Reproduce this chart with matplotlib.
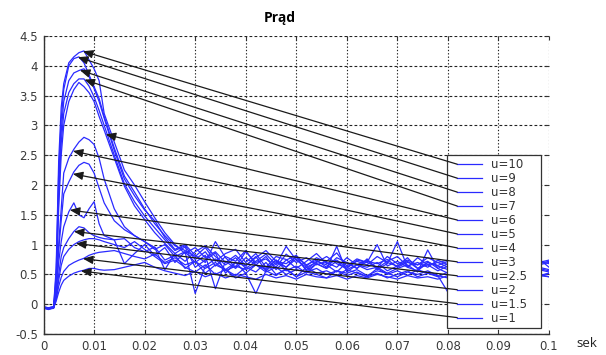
import numpy as np
import matplotlib
matplotlib.use("Agg")
import matplotlib.pyplot as plt
from matplotlib.lines import Line2D
from matplotlib.legend_handler import HandlerLine2D

# time base [s]: fine sampling through the switch-on transient, then every 2 ms
t_start = [0.0, 0.001, 0.002, 0.0025, 0.003, 0.0035, 0.004, 0.005, 0.006,
           0.007, 0.008, 0.009, 0.010, 0.011, 0.012, 0.014, 0.016, 0.018]
t_tail = np.round(np.arange(0.020, 0.1001, 0.002), 3)
t = np.concatenate([t_start, t_tail])

labels = ["u=10", "u=9", "u=8", "u=7", "u=6", "u=5",
          "u=4", "u=3", "u=2.5", "u=2", "u=1.5", "u=1"]

# measured current for each supply setting
i_u10 = [-0.05, -0.06, -0.04, 0.60, 2.40, 3.30, 3.70, 4.05, 4.15, 4.22, 4.25, 4.10, 3.95, 3.75, 3.20, 2.72, 2.25, 2.00,
         1.72, 1.45, 1.20, 1.00, 0.85, 0.95, 0.78, 0.88, 0.70, 0.82,
         0.65, 0.78, 0.90, 0.72, 0.68, 0.80, 0.66, 0.74, 0.62, 0.78,
         0.70, 0.60, 0.72, 0.68, 0.75, 0.62, 0.70, 0.66, 0.72, 0.60,
         0.68, 0.70, 0.62, 0.72, 0.66, 0.70, 0.60, 0.68, 0.72, 0.66,
         0.70]
i_u9 = [-0.06, -0.08, -0.05, 0.50, 2.20, 3.10, 3.60, 4.00, 4.12, 4.15, 4.05, 3.85, 3.65, 3.45, 3.15, 2.62, 2.15, 1.88,
        1.60, 1.35, 1.15, 0.98, 0.90, 0.80, 0.95, 0.72, 0.85, 0.92,
        0.70, 0.85, 0.62, 0.80, 0.75, 0.60, 0.72, 0.85, 0.68, 0.74,
        0.62, 0.72, 0.66, 0.80, 0.70, 0.64, 0.78, 0.60, 0.70, 0.65,
        0.72, 0.66, 0.74, 0.60, 0.70, 0.68, 0.72, 0.64, 0.70, 0.76,
        0.62]
i_u8 = [-0.05, -0.07, -0.06, 0.40, 2.00, 2.90, 3.40, 3.75, 3.88, 3.92, 3.95, 3.82, 3.62, 3.40, 3.12, 2.58, 2.10, 1.82,
        1.58, 1.40, 1.12, 0.92, 1.00, 0.82, 0.70, 1.05, 0.78, 0.62,
        0.88, 0.70, 0.76, 0.62, 0.84, 0.70, 0.78, 0.66, 0.72, 0.86,
        0.64, 0.76, 0.70, 0.62, 0.80, 0.68, 0.74, 0.66, 0.78, 0.70,
        0.62, 0.74, 0.68, 0.76, 0.62, 0.72, 0.66, 0.74, 0.62, 0.70,
        0.74]
i_u7 = [-0.06, -0.08, -0.07, 0.35, 1.80, 2.70, 3.20, 3.55, 3.70, 3.78, 3.78, 3.66, 3.48, 3.25, 3.00, 2.50, 2.02, 1.72,
        1.48, 1.28, 1.08, 0.90, 0.98, 0.75, 0.88, 0.64, 0.80, 0.72,
        0.90, 0.66, 0.80, 0.58, 0.74, 0.82, 0.64, 0.78, 0.70, 0.62,
        0.78, 0.66, 0.74, 0.60, 0.72, 0.80, 0.64, 0.70, 0.62, 0.74,
        0.66, 0.72, 0.60, 0.70, 0.74, 0.64, 0.70, 0.66, 0.60, 0.72,
        0.68]
i_u6 = [-0.07, -0.09, -0.06, 0.30, 1.60, 2.50, 3.00, 3.40, 3.60, 3.72, 3.65, 3.55, 3.40, 3.15, 2.92, 2.45, 1.98, 1.65,
        1.42, 1.20, 1.02, 0.85, 0.72, 0.88, 0.98, 0.80, 0.66, 0.78,
        0.60, 0.72, 0.84, 0.66, 0.97, 0.74, 0.62, 0.70, 0.80, 0.68,
        0.60, 0.74, 0.70, 1.00, 0.64, 0.72, 0.62, 0.78, 0.66, 0.70,
        0.74, 0.62, 0.70, 0.66, 0.78, 0.64, 0.70, 0.74, 0.62, 0.68,
        0.72]
i_u5 = [-0.06, -0.08, -0.06, 0.30, 1.00, 1.60, 2.20, 2.45, 2.60, 2.72, 2.80, 2.76, 2.68, 2.45, 2.10, 1.60, 1.30, 1.15,
        1.05, 0.92, 1.00, 0.80, 0.88, 0.70, 0.82, 0.26, 0.72, 0.60,
        0.78, 0.66, 0.58, 0.74, 0.62, 0.80, 0.56, 0.68, 0.60, 0.72,
        0.58, 0.66, 0.62, 0.70, 0.56, 0.64, 0.72, 0.60, 0.66, 0.56,
        0.64, 0.60, 0.68, 0.56, 0.62, 0.66, 0.58, 0.64, 0.60, 0.62,
        0.58]
i_u4 = [-0.06, -0.07, -0.05, 0.25, 0.90, 1.40, 1.85, 2.05, 2.22, 2.33, 2.38, 2.35, 2.20, 1.95, 1.70, 1.40, 1.25, 1.15,
        1.05, 0.95, 0.58, 0.85, 0.96, 0.62, 0.74, 0.86, 0.52, 0.70,
        0.64, 0.80, 0.56, 0.70, 0.62, 0.76, 0.58, 0.72, 0.66, 0.54,
        0.70, 0.60, 0.76, 0.58, 0.68, 1.05, 0.62, 0.56, 0.70, 0.64,
        0.58, 0.68, 0.62, 0.56, 0.70, 0.60, 0.66, 0.58, 0.64, 0.60,
        0.56]
i_u3 = [-0.05, -0.06, -0.05, 0.20, 0.70, 1.05, 1.30, 1.55, 1.70, 1.50, 1.45, 1.60, 1.72, 1.35, 1.15, 1.08, 0.68, 0.85,
        1.00, 0.82, 0.95, 0.70, 0.88, 0.18, 0.64, 0.76, 0.58, 0.70,
        0.52, 0.66, 0.60, 0.74, 0.56, 0.64, 0.52, 0.68, 0.60, 0.97,
        0.54, 0.66, 0.58, 0.62, 0.52, 0.60, 0.66, 0.54, 0.91, 0.60,
        0.52, 0.62, 0.56, 0.64, 0.50, 0.60, 0.56, 0.62, 0.52, 0.58,
        0.54]
i_u25 = [-0.05, -0.06, -0.05, 0.15, 0.50, 0.80, 0.95, 1.10, 1.22, 1.30, 1.28, 1.20, 1.15, 1.12, 1.10, 1.08, 1.10, 0.95,
         0.88, 0.96, 0.74, 0.82, 0.60, 0.72, 0.52, 0.66, 0.58, 0.48,
         0.62, 0.54, 0.70, 0.50, 0.58, 0.46, 0.62, 0.52, 0.56, 0.48,
         0.58, 0.52, 0.46, 0.60, 0.50, 0.56, 0.48, 0.58, 0.52, 0.46,
         0.54, 0.50, 0.58, 0.46, 0.52, 0.56, 0.48, 0.54, 0.50, 0.46,
         0.52]
i_u2 = [-0.06, -0.07, -0.06, 0.10, 0.40, 0.65, 0.80, 0.92, 1.00, 1.05, 1.08, 1.10, 1.10, 1.08, 1.05, 1.00, 0.95, 1.05,
        0.92, 0.80, 0.68, 0.74, 0.62, 0.54, 0.66, 0.50, 0.58, 0.44,
        0.52, 0.18, 0.56, 0.48, 0.60, 0.46, 0.54, 0.50, 0.44, 0.56,
        0.48, 0.54, 0.46, 0.52, 0.44, 0.50, 0.56, 0.46, 0.52, 0.48,
        0.44, 0.52, 0.48, 0.54, 0.46, 0.50, 0.44, 0.52, 0.48, 0.50,
        0.46]
i_u15 = [-0.05, -0.06, -0.05, 0.08, 0.30, 0.45, 0.55, 0.65, 0.70, 0.74, 0.77, 0.82, 0.85, 0.87, 0.88, 0.90, 0.85, 0.80,
         0.76, 0.84, 0.70, 0.78, 0.66, 0.72, 0.60, 0.70, 0.56, 0.64,
         0.58, 0.66, 0.54, 0.62, 0.50, 0.58, 0.54, 0.60, 0.50, 0.56,
         0.52, 0.58, 0.48, 0.56, 0.52, 0.46, 0.54, 0.50, 0.56, 0.48,
         0.20, 0.42, 0.50, 0.46, 0.54, 0.48, 0.52, 0.46, 0.50, 0.48,
         0.52]
i_u1 = [-0.05, -0.07, -0.06, 0.05, 0.20, 0.32, 0.40, 0.47, 0.52, 0.55, 0.57, 0.60, 0.60, 0.58, 0.57, 0.58, 0.62, 0.66,
        0.70, 0.62, 0.56, 0.52, 0.48, 0.55, 0.46, 0.52, 0.44, 0.50,
        0.46, 0.42, 0.50, 0.44, 0.48, 0.42, 0.50, 0.46, 0.44, 0.48,
        0.42, 0.48, 0.44, 0.50, 0.46, 0.42, 0.48, 0.44, 0.46, 0.42,
        0.48, 0.44, 0.46, 0.42, 0.48, 0.44, 0.46, 0.50, 0.44, 0.48,
        0.46]

currents = [i_u10, i_u9, i_u8, i_u7, i_u6, i_u5, i_u4, i_u3, i_u25, i_u2, i_u15, i_u1]

# time at which each callout arrow touches its curve
arrow_t = [0.0078, 0.0068, 0.0072, 0.0081, 0.0123, 0.0058,
           0.0058, 0.0052, 0.0060, 0.0064, 0.0078, 0.0074]

x_ticks = [0, 0.01, 0.02, 0.03, 0.04, 0.05, 0.06, 0.07, 0.08, 0.09, 0.1]
x_ticklabels = ["0", "0.01", "0.02", "0.03", "0.04", "0.05", "0.06", "0.07", "0.08", "0.09", "0.1"]
y_ticks = [-0.5, 0, 0.5, 1, 1.5, 2, 2.5, 3, 3.5, 4, 4.5]
y_ticklabels = ["-0.5", "0", "0.5", "1", "1.5", "2", "2.5", "3", "3.5", "4", "4.5"]

blue = "#2a2aff"
dark = "#333333"

fig = plt.figure(figsize=(6.06, 3.55), dpi=100)
ax = fig.add_axes([0.0718, 0.0592, 0.8342, 0.8394])

for cur, lab in zip(currents, labels):
    ax.plot(t, cur, color=blue, lw=0.9, label=lab, zorder=2)

ax.set_xlim(0, 0.1)
ax.set_ylim(-0.5, 4.5)
ax.set_xticks(x_ticks)
ax.set_xticklabels(x_ticklabels)
ax.set_yticks(y_ticks)
ax.set_yticklabels(y_ticklabels)
ax.tick_params(direction="in", length=3, width=0.8, color=dark, labelcolor="#3a3a3a",
               labelsize=8.5, top=True, right=True, pad=4)

for side in ("top", "right"):
    ax.spines[side].set_visible(False)
for side in ("left", "bottom"):
    ax.spines[side].set_color(dark)
    ax.spines[side].set_linewidth(1.0)

ax.xaxis.grid(True, color="#222222", lw=0.8, linestyle=(0, (1.2, 1.8)))
ax.yaxis.grid(True, color="#222222", lw=0.8, linestyle=(0, (2.5, 2.0)))
ax.set_axisbelow(True)

leg = ax.legend(loc="lower left", bbox_to_anchor=(0.7976, 0.0211, 0.1866, 0.57),
                mode="expand", borderaxespad=0, fontsize=8.5, frameon=True,
                fancybox=False, framealpha=1.0, edgecolor=dark,
                borderpad=0.25, labelspacing=0.08, handlelength=3.4,
                handletextpad=0.12,
                handler_map={Line2D: HandlerLine2D(marker_pad=0.64, numpoints=2)})
leg.get_frame().set_linewidth(0.9)
for txt in leg.get_texts():
    txt.set_color("#333333")

fig.text(0.462, 0.949, "Prąd", ha="center", va="center",
         fontsize=10, fontweight="bold", family="Open Sans")
fig.text(0.985, 0.031, "sek", ha="right", va="center",
         fontsize=9.5, family="Open Sans", color="#222222")

# callout lines from each legend entry to its curve
fig.canvas.draw()
to_axes = ax.transAxes.inverted()
for line, cur, ta in zip(leg.get_lines(), currents, arrow_t):
    start_disp = line.get_transform().transform(line.get_xydata())[0]
    sx, sy = to_axes.transform(start_disp)
    ya = float(np.interp(ta, t, cur))
    ax.annotate("", xy=(ta, ya), xycoords="data",
                xytext=(sx, sy), textcoords="axes fraction",
                arrowprops=dict(arrowstyle="-|>,head_length=0.6,head_width=0.25",
                                color="#1a1a1a", lw=0.9, mutation_scale=10,
                                shrinkA=0, shrinkB=0),
                zorder=6, annotation_clip=False)

fig.savefig("out.png", dpi=100)
